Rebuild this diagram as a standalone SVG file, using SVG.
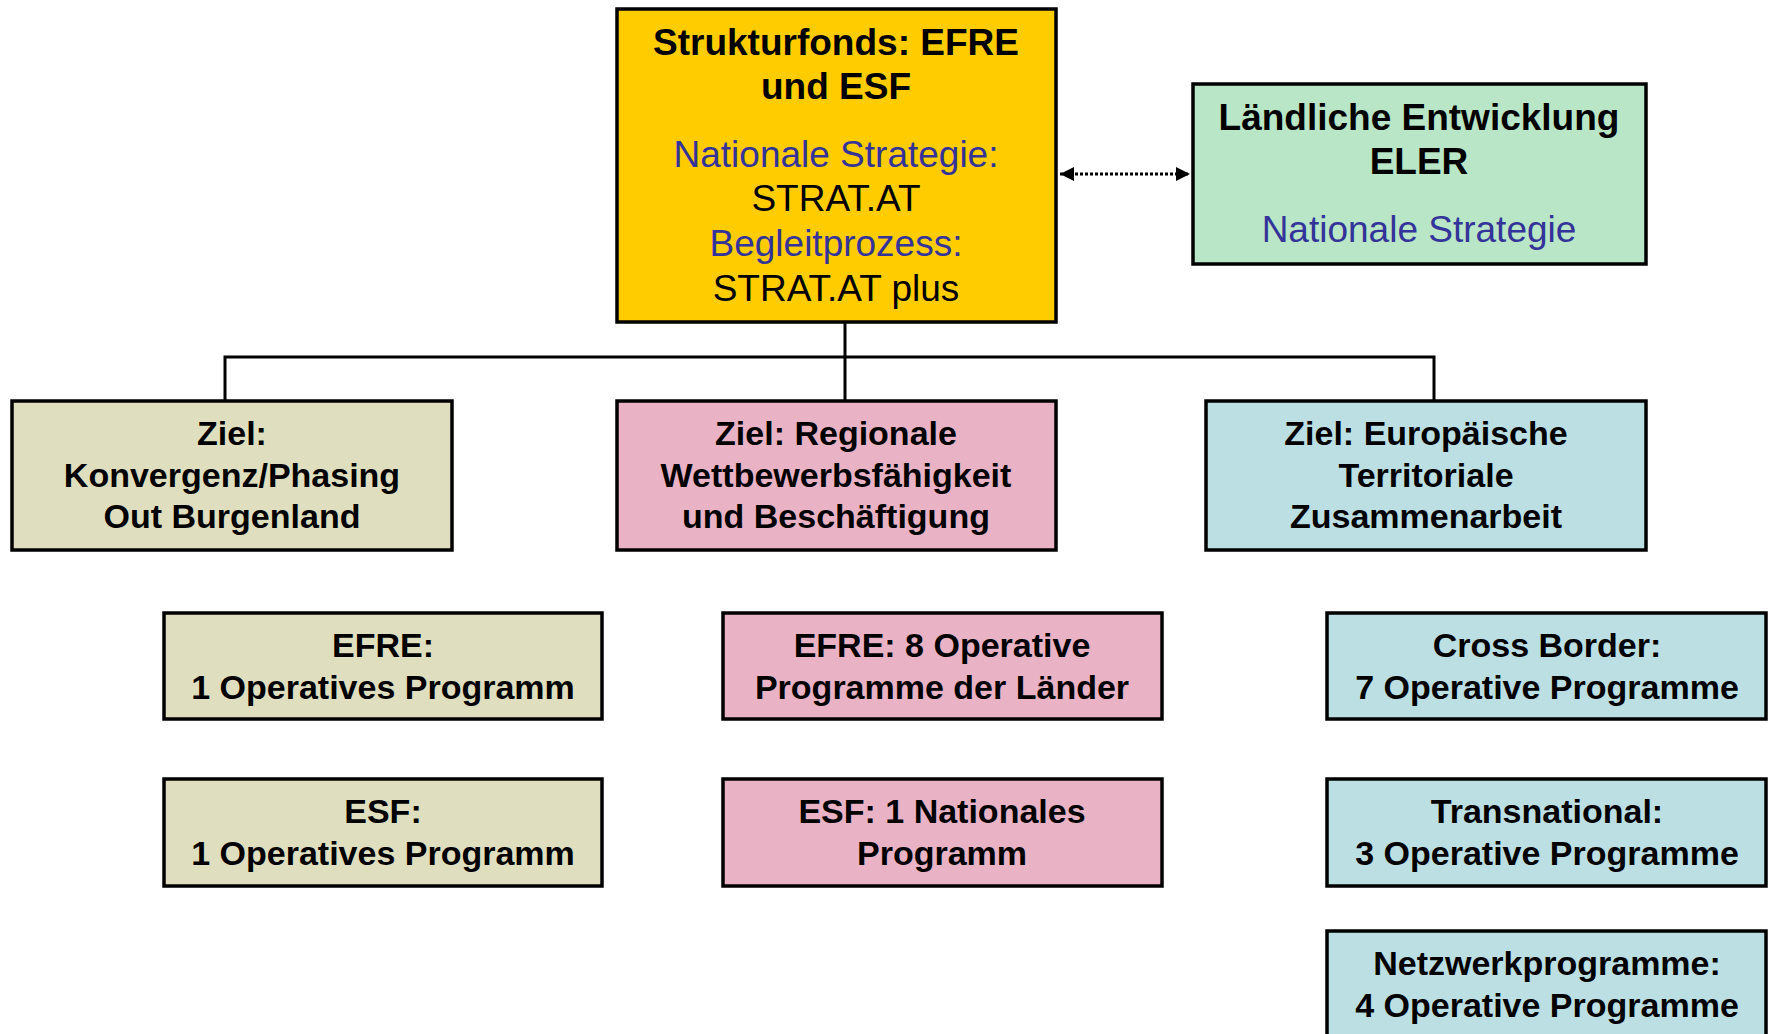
<svg xmlns="http://www.w3.org/2000/svg" width="1771" height="1034" viewBox="0 0 1771 1034">
<style>
.box{stroke:#000;stroke-width:3.5}
.t{font-family:"Liberation Sans",Arial,sans-serif;text-anchor:middle;fill:#000}
.b{font-weight:bold;font-size:34px}
.h{font-weight:bold;font-size:37px}
.r{font-size:37px}
.blue{fill:#333399}
.gold{fill:#FFCC00}
.green{fill:#B8E6C6}
.khaki{fill:#DFDFBF}
.pink{fill:#E9B3C5}
.cyan{fill:#BBDFE3}
.conn{stroke:#000;stroke-width:3;fill:none}
</style>
<defs>
<marker id="ah" viewBox="0 0 10 10" refX="10" refY="5" markerWidth="14" markerHeight="14" markerUnits="userSpaceOnUse" orient="auto-start-reverse">
<path d="M0,0 L10,5 L0,10 Z" fill="#000"/>
</marker>
</defs>
<rect width="1771" height="1034" fill="#fff"/>
<g id="connectors">
<line class="conn" x1="845" y1="322" x2="845" y2="401"/>
<polyline class="conn" points="225,401 225,357 1434,357 1434,401"/>
<line x1="1060" y1="174" x2="1190" y2="174" stroke="#000" stroke-width="3" stroke-dasharray="3,2" marker-start="url(#ah)" marker-end="url(#ah)"/>
</g>
<g id="strukturfonds">
<rect class="box gold" x="617" y="9" width="439" height="313"/>
<text class="t h" x="836" y="55">Strukturfonds: EFRE</text>
<text class="t h" x="836" y="99">und ESF</text>
<text class="t r blue" x="836" y="167">Nationale Strategie:</text>
<text class="t r" x="836" y="211">STRAT.AT</text>
<text class="t r blue" x="836" y="256">Begleitprozess:</text>
<text class="t r" x="836" y="301">STRAT.AT plus</text>
</g>
<g id="eler">
<rect class="box green" x="1193" y="84" width="453" height="180"/>
<text class="t h" x="1419" y="130">Ländliche Entwicklung</text>
<text class="t h" x="1419" y="174">ELER</text>
<text class="t r blue" x="1419" y="242">Nationale Strategie</text>
</g>
<g id="ziel-konvergenz">
<rect class="box khaki" x="12" y="401" width="440" height="149"/>
<text class="t b" x="232" y="445">Ziel:</text>
<text class="t b" x="232" y="487">Konvergenz/Phasing</text>
<text class="t b" x="232" y="528">Out Burgenland</text>
</g>
<g id="ziel-regional">
<rect class="box pink" x="617" y="401" width="439" height="149"/>
<text class="t b" x="836" y="445">Ziel: Regionale</text>
<text class="t b" x="836" y="487">Wettbewerbsfähigkeit</text>
<text class="t b" x="836" y="528">und Beschäftigung</text>
</g>
<g id="ziel-territorial">
<rect class="box cyan" x="1206" y="401" width="440" height="149"/>
<text class="t b" x="1426" y="445">Ziel: Europäische</text>
<text class="t b" x="1426" y="487">Territoriale</text>
<text class="t b" x="1426" y="528">Zusammenarbeit</text>
</g>
<g id="efre-burgenland">
<rect class="box khaki" x="164" y="613" width="438" height="106"/>
<text class="t b" x="383" y="657">EFRE:</text>
<text class="t b" x="383" y="699">1 Operatives Programm</text>
</g>
<g id="esf-burgenland">
<rect class="box khaki" x="164" y="779" width="438" height="107"/>
<text class="t b" x="383" y="823">ESF:</text>
<text class="t b" x="383" y="865">1 Operatives Programm</text>
</g>
<g id="efre-laender">
<rect class="box pink" x="723" y="613" width="439" height="106"/>
<text class="t b" x="942" y="657">EFRE: 8 Operative</text>
<text class="t b" x="942" y="699">Programme der Länder</text>
</g>
<g id="esf-national">
<rect class="box pink" x="723" y="779" width="439" height="107"/>
<text class="t b" x="942" y="823">ESF: 1 Nationales</text>
<text class="t b" x="942" y="865">Programm</text>
</g>
<g id="cross-border">
<rect class="box cyan" x="1327" y="613" width="439" height="106"/>
<text class="t b" x="1547" y="657">Cross Border:</text>
<text class="t b" x="1547" y="699">7 Operative Programme</text>
</g>
<g id="transnational">
<rect class="box cyan" x="1327" y="779" width="439" height="107"/>
<text class="t b" x="1547" y="823">Transnational:</text>
<text class="t b" x="1547" y="865">3 Operative Programme</text>
</g>
<g id="netzwerk">
<rect class="box cyan" x="1327" y="931" width="439" height="120"/>
<text class="t b" x="1547" y="975">Netzwerkprogramme:</text>
<text class="t b" x="1547" y="1017">4 Operative Programme</text>
</g>
</svg>
